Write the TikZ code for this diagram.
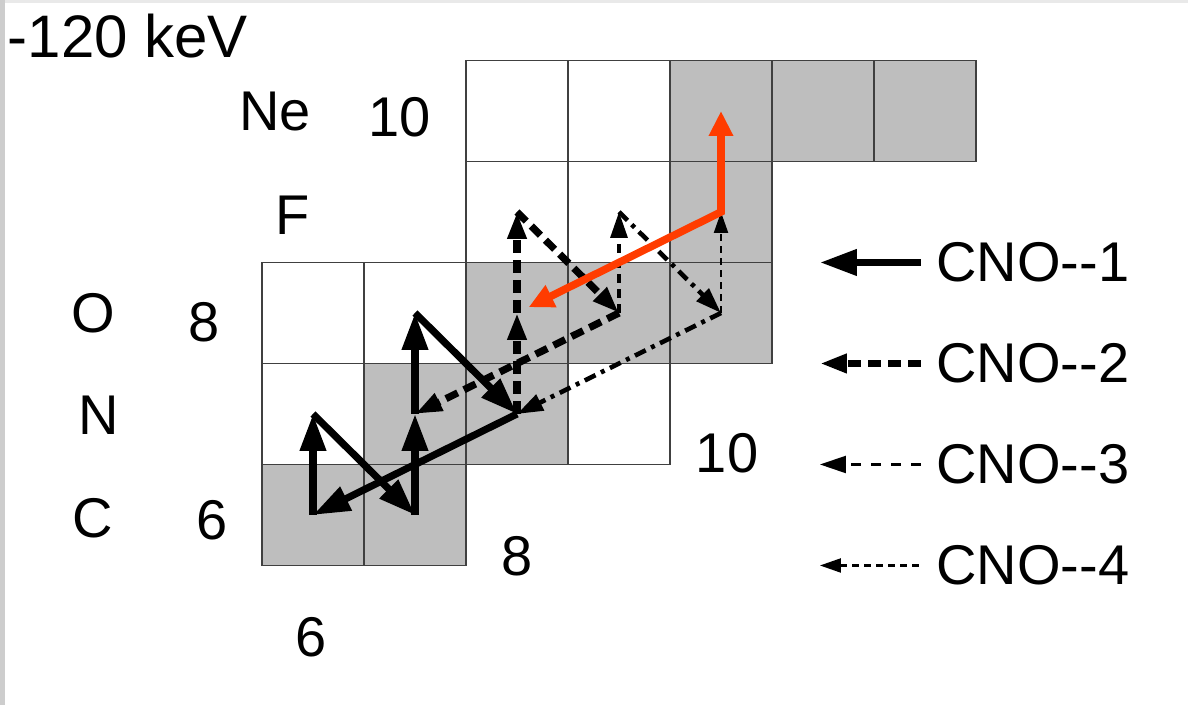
\documentclass[tikz,border=0pt]{standalone}
\usepackage{fontspec}
\setmainfont{Liberation Sans}
\usepackage{tikz}
\usetikzlibrary{arrows.meta,positioning}
\definecolor{Stable}{HTML}{BEBEBE}
\definecolor{Breakout}{HTML}{FF3C00}
\definecolor{Frame}{HTML}{CDCDCD}
\tikzset{
  cell/.style={draw=black!75,line width=0.7pt},
  lbl/.style={inner sep=0pt,font=\fontsize{28pt}{34pt}\selectfont},
  cnoone/.style={line width=3.6pt,-{Triangle[length=18.5pt,width=12.5pt]}},
  cnotwo/.style={line width=3.6pt,dash pattern=on 6.5pt off 3.5pt,-{Triangle[length=13.5pt,width=9pt]}},
  cnothree/.style={line width=1.6pt,dash pattern=on 4.5pt off 3pt,-{Triangle[length=13pt,width=8.5pt]}},
  diagdash/.style={line width=2.3pt,dash pattern=on 6pt off 3pt on 2pt off 3pt},
  cnofour/.style={line width=1.1pt,dash pattern=on 3.5pt off 2.5pt,-{Triangle[length=10.5pt,width=7pt]}},
  breakout/.style={draw=Breakout,line width=3.8pt,{Triangle[length=12.5pt,width=11.5pt]}-{Triangle[length=12.5pt,width=11.5pt]}}
}
\begin{document}
\begin{tikzpicture}[x=51pt,y=50.5pt]
  \useasboundingbox (2.9314,4.1188) rectangle (14.5784,11.099);
  \fill[white] (2.9314,4.1188) rectangle (14.5784,11.099);
  \fill[Frame] (2.9314,4.1188) rectangle (2.98,11.099);
  \fill[Frame!45] (2.98,11.07) rectangle (14.5784,11.099);
  \foreach \nn/\zz/\tone in {6/6/Stable,7/6/Stable,6/7/white,7/7/Stable,8/7/Stable,9/7/white,
      6/8/white,7/8/white,8/8/Stable,9/8/Stable,10/8/Stable,8/9/white,9/9/white,10/9/Stable,
      8/10/white,9/10/white,10/10/Stable,11/10/Stable,12/10/Stable}
    \draw[cell,fill=\tone] (\nn-0.5,\zz-0.5) rectangle +(1,1);
  \foreach \iso/\nn/\zz in {C12/6/6,N13/6/7,C13/7/6,N14/7/7,O15/7/8,N15/8/7,O16/8/8,F17/8/9,
      O17/9/8,F18/9/9,O18/10/8,F19/10/9,Ne20/10/10}
    \coordinate (\iso) at (\nn,\zz);

  \node[lbl,anchor=west,font=\fontsize{30pt}{36pt}\selectfont] (kev) at (3.005,10.74) {-120 keV};
  \node[lbl] (ne) at (5.63,9.99) {Ne};
  \node[lbl] (zten) at (6.85,9.94) {10};
  \node[lbl] (f) at (5.80,8.97) {F};
  \node[lbl] (o) at (3.85,8.0) {O};
  \node[lbl] (zeight) at (4.93,7.91) {8};
  \node[lbl] (n) at (3.90,6.99) {N};
  \node[lbl] (c) at (3.84,5.97) {C};
  \node[lbl] (zsix) at (5.01,5.95) {6};
  \node[lbl] (nsix) at (5.98,4.79) {6};
  \node[lbl] (neight) at (8.0,5.59) {8};
  \node[lbl] (nten) at (10.06,6.61) {10};

  \draw[cnoone](C12)--(N13);\draw[cnoone](N13)--(C13);\draw[cnoone](C13)--(N14);
  \draw[cnoone](N14)--(O15);\draw[cnoone](O15)--(N15);\draw[cnoone](N15)--(C12);
  \draw[cnotwo](N15)--(O16);\draw[cnotwo](O16)--(F17);\draw[cnotwo](F17)--(O17);\draw[cnotwo](O17)--(N14);
  \draw[cnothree](O17)--(F18);\draw[cnothree,diagdash](F18)--(O18);\draw[cnothree,diagdash](O18)--(N15);
  \draw[cnofour](O18)--(F19);
  \draw[breakout,shorten <=6.5pt](O16)--(F19)--(Ne20);

  \coordinate (k1) at (11.96,8.5); \coordinate (k1e) at (10.97,8.5);
  \coordinate (k2) at (11.96,7.5); \coordinate (k2e) at (10.97,7.5);
  \coordinate (k3) at (11.96,6.5); \coordinate (k3e) at (10.97,6.5);
  \coordinate (k4) at (11.94,5.5); \coordinate (k4e) at (10.97,5.5);
  \draw[cnoone](k1)--(k1e); \node[lbl,right=7.5pt of k1] (t1) {CNO-{}-1};
  \draw[cnotwo](k2)--(k2e); \node[lbl,right=7.5pt of k2] (t2) {CNO-{}-2};
  \draw[cnothree,line width=1.1pt,dash pattern=on 5pt off 5pt](k3)--(k3e); \node[lbl,right=7.5pt of k3] (t3) {CNO-{}-3};
  \draw[cnofour](k4)--(k4e); \node[lbl,right=8.5pt of k4] (t4) {CNO-{}-4};
\end{tikzpicture}
\end{document}
